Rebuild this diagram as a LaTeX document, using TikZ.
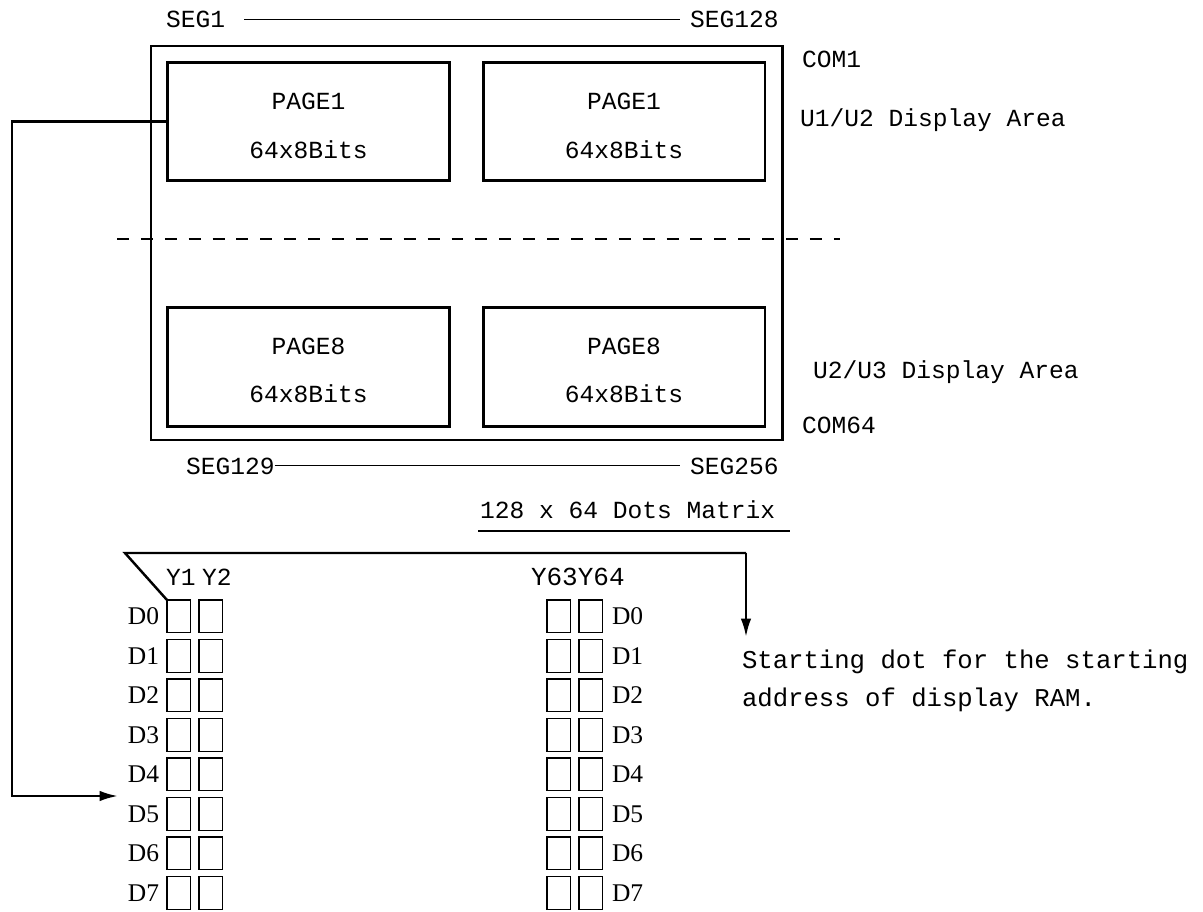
\documentclass[tikz,border=0pt]{standalone}
\usepackage{fontspec}
\setmainfont{Liberation Mono}
\newfontfamily\dfont{Liberation Serif}
\usetikzlibrary{arrows.meta}
\begin{document}
\begin{tikzpicture}[x=0.02cm,y=-0.02cm,
  every node/.style={font=\fontsize{14}{16}\selectfont, inner sep=0pt, outer sep=0pt},
  thickbox/.style={draw, line width=1.7pt},
  pagebox/.style={draw, line width=1.6pt, minimum width=160.4pt, minimum height=67.5pt},
  cell/.style={draw, line width=0.6pt, minimum width=13.6pt, minimum height=18.7pt, anchor=north west},
  thin/.style={line width=0.6pt},
  conn/.style={line width=1.4pt},
  tip/.style={-{Latex[length=10.5pt,width=6pt]}},
  lbl/.style={anchor=base west},
  dlbl/.style={font=\dfont\fontsize{14.5}{16}\selectfont},
  note/.style={anchor=base west, font=\fontsize{14.6}{16}\selectfont}
]
\useasboundingbox (0,0) rectangle (1203,912);

% outer display frame
\draw[thickbox] (151,46) rectangle (782,440);

% page boxes
\node[pagebox] (pA) at (308.5,121.5) {};
\node[pagebox] (pB) at (624,121.5) {};
\node[pagebox] (pC) at (308.5,367) {};
\node[pagebox] (pD) at (624,367) {};
\node[anchor=base] (tA1) at (308.5,110) {PAGE1};
\node[anchor=base] (tA2) at (308.5,159) {64x8Bits};
\node[anchor=base] (tB1) at (624,110) {PAGE1};
\node[anchor=base] (tB2) at (624,159) {64x8Bits};
\node[anchor=base] (tC1) at (308.5,354) {PAGE8};
\node[anchor=base] (tC2) at (308.5,402) {64x8Bits};
\node[anchor=base] (tD1) at (624,354) {PAGE8};
\node[anchor=base] (tD2) at (624,402) {64x8Bits};

% dashed separator
\draw[line width=0.7pt, dash pattern=on 6.8pt off 6.8pt] (117,239) -- (840,239);

% segment labels
\node[lbl] (seg1) at (166,28) {SEG1};
\node[lbl] (seg128) at (690,28) {SEG128};
\draw[thin] ([xshift=11pt]seg1.east) -- ([xshift=-5.5pt]seg128.west);
\node[lbl] (seg129) at (186,474) {SEG129};
\node[lbl] (seg256) at (690,474) {SEG256};
\draw[thin] (seg129.east) -- ([xshift=-5.5pt]seg256.west);

% COM labels and areas
\node[lbl] (com1) at (802,68) {COM1};
\node[lbl] (u12) at (800,127) {U1/U2 Display Area};
\node[lbl] (u23) at (813,378) {U2/U3 Display Area};
\node[lbl] (com64) at (802,433) {COM64};

% matrix title
\node[lbl] (mtx) at (480,518) {128 x 64 Dots Matrix};
\draw[line width=1.7pt] (478,531) -- (790,531);

% column labels
\node[lbl] (y1) at (166,585) {Y1};
\node[lbl] (y2) at (202,585) {Y2};
\node[lbl, font=\fontsize{14.8}{16}\selectfont] (y6364) at (531,585) {Y63Y64};

% cells
\foreach \i in {0,...,7} {
  \pgfmathsetmacro\yt{600+39.5*\i}
  \pgfmathsetmacro\yb{600+39.5*\i+24.5}
  \node[cell] (a\i) at (167,\yt) {};
  \node[cell] (b\i) at (199,\yt) {};
  \node[cell] (c\i) at (547,\yt) {};
  \node[cell] (d\i) at (579,\yt) {};
  \node[dlbl, anchor=base east] (dl\i) at (159,\yb) {D\i};
  \node[dlbl, anchor=base west] (dr\i) at (612,\yb) {D\i};
}

% starting-dot bracket and arrow
\coordinate (brk) at (125,553);
\coordinate (brkr) at (746,553);
\coordinate (sdot) at (746,637);
\draw[conn] (a0.north west) -- (brk) -- (brkr);
\draw[conn, tip] (brkr) -- (sdot);
\node[note] (st1) at (742,668) {Starting dot for the starting};
\node[note] (st2) at (742,706) {address of display RAM.};

% page-to-bit connector
\coordinate (lc) at (12,796);
\coordinate (le) at (118,796);
\draw[conn, tip] (pA.west) -| (lc) -- (le);
\end{tikzpicture}
\end{document}
